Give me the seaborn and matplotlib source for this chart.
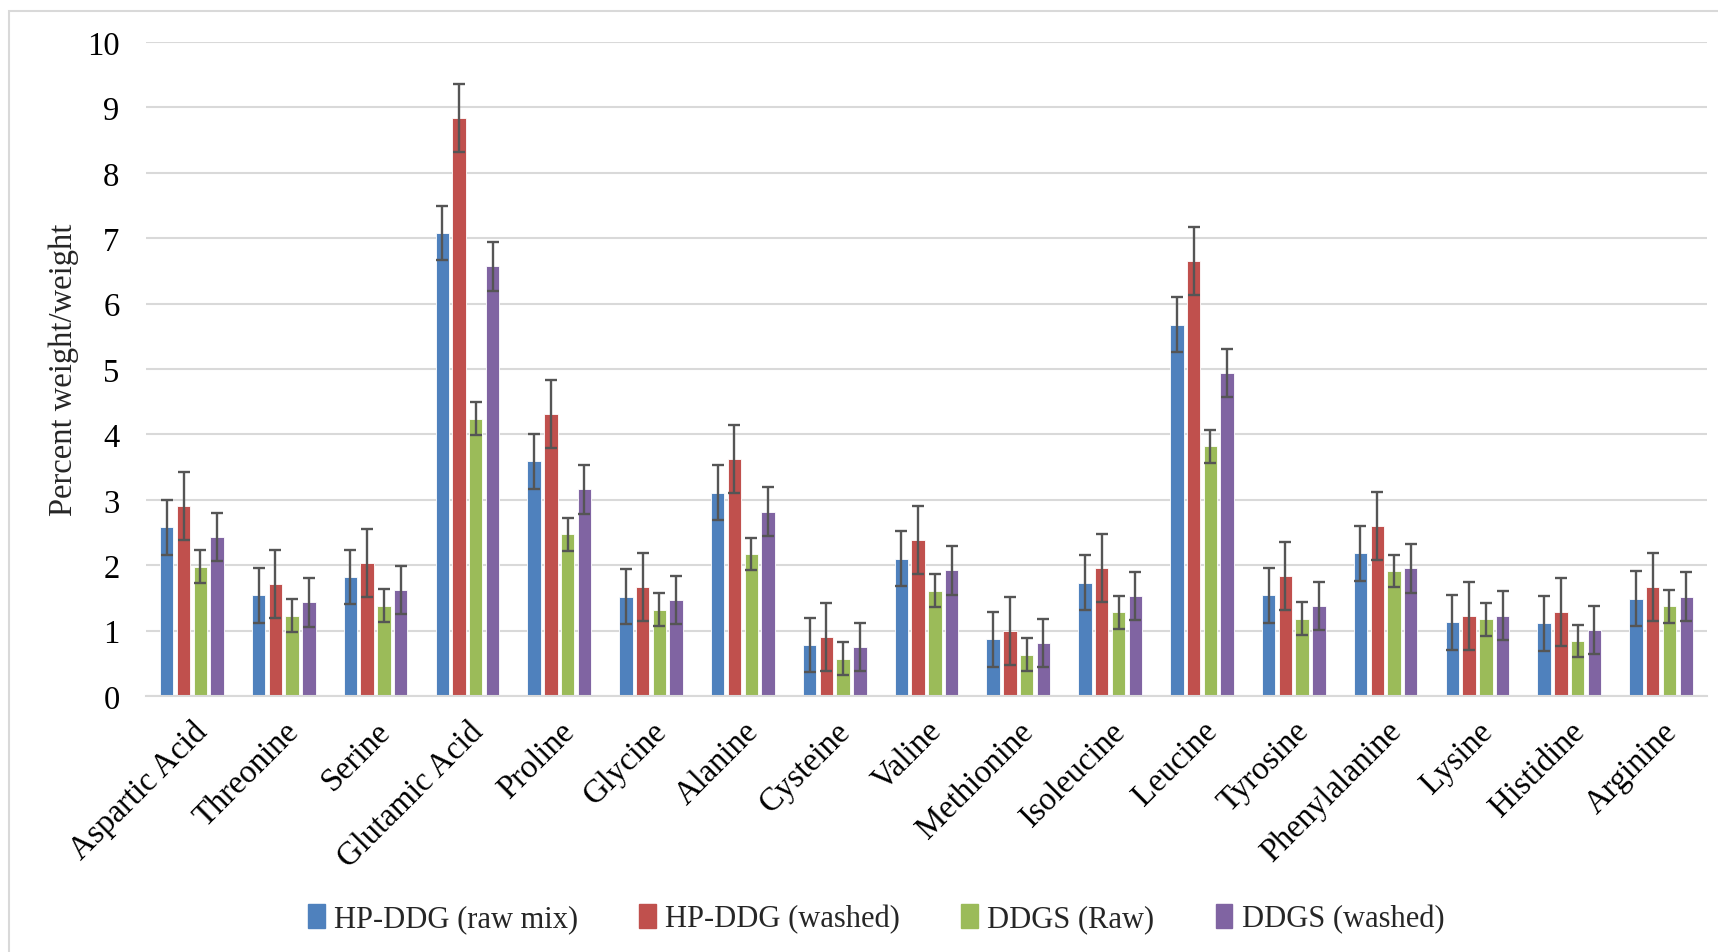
import numpy as np
import pandas as pd
import matplotlib
matplotlib.use("Agg")
import matplotlib.pyplot as plt
import seaborn as sns
from matplotlib.patches import Rectangle

amino_acids = [
    "Aspartic Acid", "Threonine", "Serine", "Glutamic Acid", "Proline",
    "Glycine", "Alanine", "Cysteine", "Valine", "Methionine", "Isoleucine",
    "Leucine", "Tyrosine", "Phenylalanine", "Lysine", "Histidine", "Arginine",
]
series_names = ["HP-DDG (raw mix)", "HP-DDG (washed)", "DDGS (Raw)", "DDGS (washed)"]

hp_raw = [2.58, 1.54, 1.82, 7.08, 3.59, 1.52, 3.11, 0.78, 2.10, 0.87, 1.73,
          5.68, 1.54, 2.18, 1.13, 1.11, 1.49]
hp_washed = [2.91, 1.71, 2.03, 8.84, 4.31, 1.66, 3.62, 0.90, 2.38, 1.00, 1.95,
             6.65, 1.83, 2.60, 1.23, 1.28, 1.66]
ddgs_raw = [1.98, 1.23, 1.38, 4.24, 2.47, 1.32, 2.17, 0.57, 1.61, 0.63, 1.28,
            3.82, 1.18, 1.91, 1.17, 0.84, 1.37]
ddgs_washed = [2.43, 1.43, 1.62, 6.57, 3.16, 1.47, 2.82, 0.75, 1.92, 0.81, 1.53,
               4.94, 1.38, 1.95, 1.23, 1.01, 1.52]

# error bars (same size in every group)
err_hp_raw = [0.42] * 17
err_hp_washed = [0.52] * 17
err_ddgs_raw = [0.25] * 17
err_ddgs_washed = [0.37] * 17

colors = ["#4F81BD", "#C0504D", "#9BBB59", "#8064A2"]

values = [hp_raw, hp_washed, ddgs_raw, ddgs_washed]
errors = [err_hp_raw, err_hp_washed, err_ddgs_raw, err_ddgs_washed]

df = pd.DataFrame(
    [
        {"amino": a, "series": s, "value": v}
        for s, vals in zip(series_names, values)
        for a, v in zip(amino_acids, vals)
    ]
)

sns.set_theme(style="white")
plt.rcParams["font.family"] = ["Liberation Serif", "DejaVu Serif"]
fs = 23.5

fig = plt.figure(figsize=(17.18, 9.53), dpi=100)
ax = fig.add_axes([146 / 1718, 1 - 697 / 953, (1707 - 146) / 1718, (697 - 43) / 953])

sns.barplot(
    data=df, x="amino", y="value", hue="series",
    order=amino_acids, hue_order=series_names, palette=colors,
    width=0.73, gap=0.2, errorbar=None, saturation=1,
    edgecolor="#FFFFFF", linewidth=0.6, ax=ax,
)

for container, err in zip(ax.containers, errors):
    xs = [p.get_x() + p.get_width() / 2 for p in container.patches]
    ys = [p.get_height() for p in container.patches]
    ax.errorbar(xs, ys, yerr=err, fmt="none", ecolor="#555555",
                elinewidth=1.7, capsize=4.5, capthick=1.7, zorder=5)

ax.set_xlim(-0.5, len(amino_acids) - 0.5)
ax.set_ylim(0, 10)
ax.set_yticks(range(0, 11))
ax.yaxis.grid(True, color="#D9D9D9", linewidth=1.5)
ax.set_axisbelow(True)
for side in ["left", "right", "top"]:
    ax.spines[side].set_visible(False)
ax.spines["bottom"].set_color("#D9D9D9")
ax.spines["bottom"].set_linewidth(1.5)
ax.tick_params(axis="both", length=0, labelsize=fs, colors="black")
ax.tick_params(axis="y", pad=19)
ax.set_xlabel("")
ax.set_ylabel("Percent weight/weight", fontsize=fs, labelpad=6)
plt.setp(ax.get_xticklabels(), rotation=45, ha="right", rotation_mode="anchor")
ax.tick_params(axis="x", pad=14)

ax.get_legend().remove()
handles = [Rectangle((0, 0), 1, 1, color=c) for c in colors]
fig.legend(
    handles, series_names, loc="center", bbox_to_anchor=(0.51, 1 - 920 / 953),
    ncol=4, frameon=False, fontsize=22, handlelength=0.55, handleheight=0.8,
    handletextpad=0.3, columnspacing=2.0,
)

# light outer frame of the chart area
fig.add_artist(Rectangle((9 / 1718, -0.05), 1.2, 1 - 12 / 953 + 0.05,
                         transform=fig.transFigure, fill=False,
                         edgecolor="#D9D9D9", linewidth=1.5))

fig.savefig("out.png", dpi=100)
